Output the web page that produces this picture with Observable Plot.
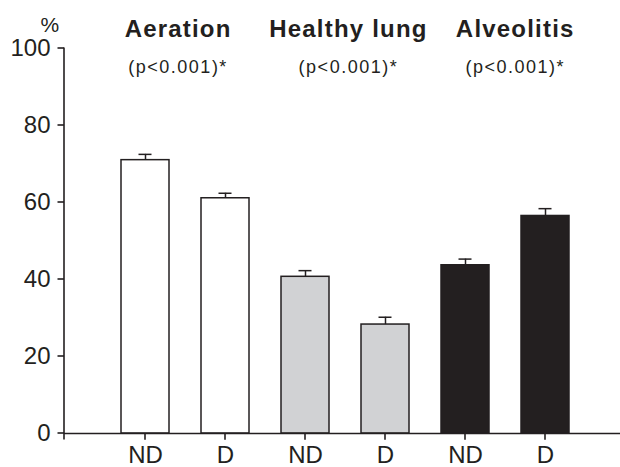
<!DOCTYPE html>
<html>
<head>
<meta charset="utf-8">
<script src="https://cdn.jsdelivr.net/npm/d3@7"></script>
<script src="https://cdn.jsdelivr.net/npm/@observablehq/plot@0.6"></script>
<style>
  html, body { margin: 0; padding: 0; background: #fff; }
  #chart svg { display: block; }
</style>
</head>
<body>
<div id="chart"></div>
<script>
// ---- data ----
const groups = ["Aeration", "Healthy lung", "Alveolitis"];
const conditions = ["ND", "D"];
const means = [71.0, 61.1, 40.7, 28.3, 43.7, 56.5];
const errors = [1.5, 1.3, 1.6, 1.9, 1.6, 1.9];
const pLabels = ["(p<0.001)*", "(p<0.001)*", "(p<0.001)*"];
const yTicks = [0, 20, 40, 60, 80, 100];
const groupFills = ["#ffffff", "#d1d2d4", "#231f20"];

// ---- table ----
const rows = [];
groups.forEach((g, gi) => conditions.forEach((c, ci) => {
  const i = gi * conditions.length + ci;
  rows.push({key: g + "|" + c, group: g, cond: c, mean: means[i], err: errors[i], fill: groupFills[gi]});
}));
const keys = rows.map(d => d.key);

const ink = "#231f20";
const font = "'Liberation Sans', Arial, Helvetica, sans-serif";
const titleDx = [-7.5, 2.8, 9.6];

const marks = [
  Plot.barY(rows, {x: "key", y: "mean", fill: "fill", stroke: ink, strokeWidth: 1.5}),
  Plot.ruleX(rows, {x: "key", y1: "mean", y2: d => d.mean + d.err, stroke: ink, strokeWidth: 1.5}),
  Plot.tickY(rows, {x: "key", y: d => d.mean + d.err, stroke: ink, strokeWidth: 1.5, insetLeft: 17.5, insetRight: 17.5}),
  Plot.ruleY([0], {stroke: ink, strokeWidth: 1.5}),
  Plot.axisY({ticks: yTicks, tickSize: 0, tickPadding: 14, fontSize: 24, color: ink, label: null}),
  Plot.axisX({tickSize: 0, tickPadding: 12.7, fontSize: 24, color: ink, label: null,
    tickFormat: k => k.split("|")[1]}),
  Plot.text(["%"], {frameAnchor: "top-left", dx: -24, dy: -17, lineAnchor: "bottom", fontSize: 21, fill: ink})
];
groups.forEach((g, gi) => {
  const k = g + "|" + conditions[0];
  marks.push(Plot.text([g], {x: () => k, frameAnchor: "top", dx: 40.1 + titleDx[gi], dy: -12,
    lineAnchor: "bottom", fontSize: 24, fontWeight: "bold", fill: ink, text: d => d}));
  marks.push(Plot.text([pLabels[gi]], {x: () => k, frameAnchor: "top", dx: 40.1 + titleDx[gi], dy: 24.7,
    lineAnchor: "bottom", fontSize: 18, fill: ink, text: d => d}));
});

const chart = Plot.plot({
  width: 620,
  height: 467,
  marginLeft: 64,
  marginRight: 0,
  marginTop: 48,
  marginBottom: 34,
  style: {fontFamily: font, fontSize: "24px", color: ink, background: "#fff"},
  x: {domain: keys, range: [105, 585.6], paddingInner: 0.4, paddingOuter: 0.2, axis: null},
  y: {domain: [0, 100], axis: null},
  marks
});
document.getElementById("chart").appendChild(chart);

// axis line and tick marks, positioned through Plot's own scales
const svg = d3.select(chart);
const xs = chart.scale("x"), ys = chart.scale("y");
const g = svg.append("g").attr("stroke", ink).attr("stroke-width", 1.6);
const y0 = ys.apply(0), yTop = ys.apply(100);
g.append("line").attr("x1", 64).attr("x2", 64).attr("y1", yTop - 0.5).attr("y2", y0 + 6.5);
yTicks.forEach(v => {
  const y = ys.apply(v);
  g.append("line").attr("x1", 57.5).attr("x2", 64).attr("y1", y).attr("y2", y);
});
keys.forEach(k => {
  const x = xs.apply(k) + xs.bandwidth / 2;
  g.append("line").attr("x1", x).attr("x2", x).attr("y1", y0).attr("y2", y0 + 6.7);
});
svg.selectAll("text").filter(function() { return this.textContent.startsWith("(p<"); })
  .style("letter-spacing", "1.5px");
svg.selectAll("text").filter(function() { return groups.includes(this.textContent); })
  .style("letter-spacing", "1.2px");
</script>
</body>
</html>
